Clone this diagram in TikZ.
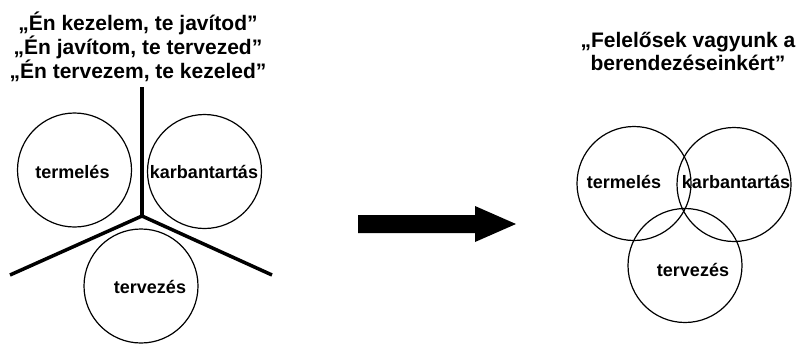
\documentclass[tikz,border=0pt]{standalone}
\usepackage{fontspec}
\setmainfont{Liberation Sans}
\tikzset{
  kor/.style={circle, draw, line width=1.2pt, minimum size=114pt, inner sep=0pt},
  cimke/.style={font=\fontsize{18}{20}\selectfont\bfseries, inner sep=0pt},
  cim/.style={font=\fontsize{21}{24}\selectfont\bfseries, align=center, inner sep=0pt},
  fal/.style={line width=3.5pt, line join=round}
}

\begin{document}
\begin{tikzpicture}[x=1pt, y=-1pt]
\useasboundingbox (0,0) rectangle (799,343);
% regi: szetvalasztott teruletek
\node[cim] (cimA) at (138,47) {„Én kezelem, te javítod”\\„Én javítom, te tervezed”\\„Én tervezem, te kezeled”};
\node[kor] (termA) at (74.5,170) {};
\node[kor] (karbA) at (204.5,171.5) {};
\node[kor] (tervA) at (141,286) {};
\node[cimke] (termAt) at (72.5,172) {termelés};
\node[cimke] (karbAt) at (204,172) {karbantartás};
\node[cimke] (tervAt) at (150,287) {tervezés};
\coordinate (kozep) at (142,216);
\coordinate (fent) at (142,87);
\coordinate (bal) at (10,275);
\coordinate (jobb) at (272,275);
\draw[fal] (fent) -- (kozep);
\draw[fal] (bal) -- (kozep) -- (jobb);

% nyil
\fill (358,215) -- (475,215) -- (475,206) -- (516,224) -- (475,242) -- (475,233) -- (358,233) -- cycle;

% uj: kozos felelosseg
\node[cim, font=\fontsize{21}{23}\selectfont\bfseries] (cimB) at (688,51) {„Felelősek vagyunk a\\berendezéseinkért”};
\node[kor] (termB) at (634,183.5) {};
\node[kor] (karbB) at (734,184.5) {};
\node[kor] (tervB) at (685,265.5) {};
\node[cimke] (termBt) at (624,182) {termelés};
\node[cimke] (karbBt) at (736,182) {karbantartás};
\node[cimke] (tervBt) at (693,270) {tervezés};
\end{tikzpicture}
\end{document}
